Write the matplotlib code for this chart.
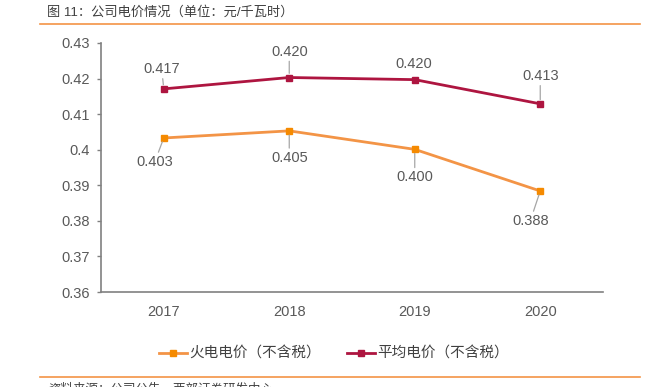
import matplotlib.pyplot as plt
from matplotlib.lines import Line2D

plt.rcParams['font.family'] = ['Liberation Sans', 'Noto Sans CJK SC', 'DejaVu Sans']

# data
years = ['2017', '2018', '2019', '2020']
thermalPrice = [0.4033, 0.4053, 0.4001, 0.3884]
avgPrice = [0.4171, 0.4203, 0.4197, 0.4129]
thermalName = '火电电价（不含税）'
avgName = '平均电价（不含税）'
yTicks = [0.36, 0.37, 0.38, 0.39, 0.40, 0.41, 0.42, 0.43]
yTickLabels = ['0.36', '0.37', '0.38', '0.39', '0.4', '0.41', '0.42', '0.43']

# label offsets in pixels (dx, dy, leader line?)
thermalOffsets = [(-9, -24, True), (0, -27, True), (0, -28, True), (-10, -30, True)]
avgOffsets = [(-2, 20, True), (0, 26, True), (-1, 16, False), (0, 28, True)]

orangeLine = '#F39446'
orangeMark = '#F58A00'
redLine = '#AE1540'
gray = '#808080'
textCol = '#595959'

fig = plt.figure(figsize=(6.52, 3.87), dpi=100)
ax = fig.add_axes([101 / 652, 95 / 387, 502 / 652, 249 / 387])

x = list(range(len(years)))
ax.plot(x, thermalPrice, color=orangeLine, lw=2.0, marker='s', ms=5,
        mfc=orangeMark, mec=orangeMark, zorder=3)
ax.plot(x, avgPrice, color=redLine, lw=2.0, marker='s', ms=5,
        mfc=redLine, mec=redLine, zorder=3)

def label(vals, offsets):
    for i, v in enumerate(vals):
        dx, dy, lead = offsets[i]
        arrow = dict(arrowstyle='-', color='#A6A6A6', lw=0.9, shrinkA=0, shrinkB=3) if lead else None
        ax.annotate('%.3f' % v, xy=(i, v), xytext=(dx, dy), textcoords='offset pixels',
                    ha='center', va='center', fontsize=10.5, color=textCol,
                    arrowprops=arrow)

label(thermalPrice, thermalOffsets)
label(avgPrice, avgOffsets)

ax.set_xlim(-0.5, len(years) - 0.5)
ax.set_ylim(0.36, 0.43)
ax.set_xticks(x)
ax.set_xticklabels(years)
ax.set_yticks(yTicks)
ax.set_yticklabels(yTickLabels)
ax.tick_params(axis='x', length=0, pad=9, labelsize=10.5, labelcolor=textCol)
ax.tick_params(axis='y', length=3, width=1, color=gray, pad=5, labelsize=10.5, labelcolor=textCol)
for s in ['top', 'right']:
    ax.spines[s].set_visible(False)
for s in ['left', 'bottom']:
    ax.spines[s].set_color(gray)
    ax.spines[s].set_linewidth(1.2)

handles = [Line2D([], [], color=orangeLine, lw=2.0, marker='s', ms=5, mfc=orangeMark, mec=orangeMark),
           Line2D([], [], color=redLine, lw=2.0, marker='s', ms=5, mfc=redLine, mec=redLine)]
fig.legend(handles, [thermalName, avgName], loc='center', bbox_to_anchor=(0.512, 33 / 387),
           ncol=2, frameon=False, fontsize=10.5, handlelength=1.9, handletextpad=0.15,
           columnspacing=1.8, labelcolor='#404040')

# title and rules
fig.text(47 / 652, 1 - 12 / 387, '图 11：公司电价情况（单位：元/千瓦时）', fontsize=9.5,
         color='#404040', ha='left', va='center')
fig.add_artist(Line2D([40 / 652, 640 / 652], [1 - 24 / 387] * 2, color='#F39446', lw=1.2))
fig.add_artist(Line2D([40 / 652, 640 / 652], [1 - 377 / 387] * 2, color='#F39446', lw=1.2))
# source line, cut by the lower edge as in the original
fig.text(48 / 652, 4 / 387, '资料来源：公司公告，西部证券研发中心', fontsize=9,
         color='#404040', ha='left', va='top')

fig.savefig('out.png', dpi=100)
